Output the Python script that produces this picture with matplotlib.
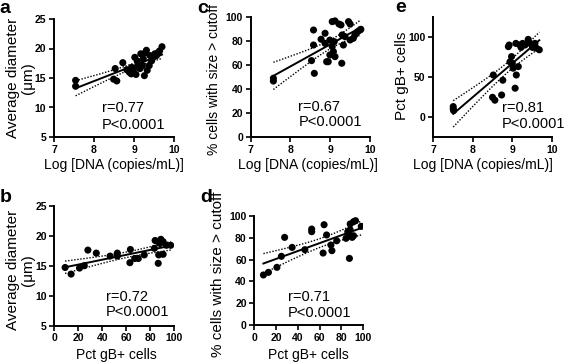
import numpy as np
import matplotlib
matplotlib.use("Agg")
import matplotlib.pyplot as plt

plt.rcParams['font.family'] = ['Liberation Sans', 'DejaVu Sans']

# ---------------- data ----------------
# Panel a: Log DNA vs average diameter
a_x = [7.54, 7.54, 8.53, 8.49, 8.57, 8.72, 8.82, 8.88, 8.93, 8.94, 8.98, 9.02, 9.05, 9.08,
       9.11, 9.15, 9.17, 9.21, 9.23, 9.26, 9.27, 9.31, 9.33, 9.38, 9.40, 9.44, 9.48, 9.52,
       9.56, 9.60, 9.64, 9.70]
a_y = [14.6, 13.6, 16.6, 14.8, 14.5, 17.6, 16.4, 16.0, 15.7, 16.8, 16.2, 18.5, 15.6, 17.9,
       16.8, 16.6, 19.1, 17.1, 18.2, 15.4, 19.2, 19.7, 16.3, 17.1, 18.8, 17.9, 18.5, 19.1,
       18.8, 19.3, 19.6, 20.3]

# Panel c: Log DNA vs % cells with size > cutoff
c_x = [7.57, 7.57, 8.58, 8.58, 8.53, 8.60, 8.77, 8.87, 8.87, 8.91, 8.95, 8.99, 9.05, 9.12,
       9.22, 9.27, 9.46, 9.50, 8.99, 9.05, 9.10, 9.08, 9.12, 9.29, 9.33, 9.30, 9.37, 9.50,
       9.58, 9.62, 9.69, 9.75, 9.77]
c_y = [49.2, 46.9, 89.4, 76.9, 63.9, 53.3, 81.7, 86.7, 78.3, 63.0, 63.0, 68.6, 96.4, 97.0,
       94.4, 93.6, 96.4, 94.4, 81.0, 75.6, 79.7, 71.4, 67.2, 61.7, 76.9, 85.3, 83.9, 81.1,
       82.5, 85.3, 88.0, 89.4, 90.0]

# Panel e: Log DNA vs Pct gB+ cells
e_x = [7.51, 7.51, 7.52, 8.52, 8.50, 8.56, 8.73, 8.76, 8.90, 8.92, 9.09, 8.94, 8.98, 9.00,
       9.02, 9.07, 9.10, 9.15, 9.19, 9.22, 9.26, 9.32, 9.40, 9.45, 9.51, 9.57, 9.61, 9.68]
e_y = [13, 10, 8, 52.5, 24.6, 21, 27.5, 46, 88, 90, 92, 69, 75.5, 67, 61, 36, 52.5, 63,
       90, 87, 92, 90, 97, 92, 87, 92, 86, 84]

# Panel b: Pct gB+ cells vs average diameter
b_x = [9, 14, 21, 25, 28, 35, 46.5, 52.5, 52.5, 63.4, 63, 67, 70, 75, 83.4, 84, 86.6, 88.8,
       90.7, 86.6, 87, 90.7, 93.4, 97, 88]
b_y = [14.7, 13.6, 14.6, 15.0, 17.6, 17.1, 16.6, 17.1, 16.6, 17.7, 15.5, 16.2, 16.2, 16.8,
       17.9, 19.2, 19.0, 19.4, 19.0, 15.4, 16.8, 16.9, 18.4, 18.4, 18.7]

# Panel d: Pct gB+ cells vs % cells with size > cutoff
d_x = [8.4, 13, 20.8, 24.9, 27.9, 34.8, 46.5, 52.8, 52.8, 64.2, 63.3, 66.5, 70.5, 71.4,
       75.8, 84.4, 86, 87.5, 88.2, 90, 91.3, 87.5, 88.2, 91.3, 93.1, 98.4]
d_y = [45.9, 48.3, 52.9, 63, 80.4, 71.2, 69.1, 88, 85.6, 92, 66, 82.6, 73.4, 68.2, 77.3,
       79.5, 85.6, 81.9, 87.4, 80.4, 81.9, 61.1, 92.7, 94.8, 95.7, 90.5]

stats_text = {"a": ("r=0.77", "P<0.0001"), "b": ("r=0.72", "P<0.0001"),
              "c": ("r=0.67", "P<0.0001"), "d": ("r=0.71", "P<0.0001"),
              "e": ("r=0.81", "P<0.0001")}

# ---------------- figure ----------------
W, H = 567, 363
fig = plt.figure(figsize=(W / 100, H / 100), dpi=100)


def ax_px(l, r, t, b):
    return fig.add_axes([l / W, 1 - b / H, (r - l) / W, (b - t) / H])


def style(ax):
    for s in ("top", "right"):
        ax.spines[s].set_visible(False)
    for s in ("left", "bottom"):
        ax.spines[s].set_linewidth(1.4)
    ax.tick_params(direction="out", length=3.5, width=1.2, labelsize=7.5, pad=2)
    for lab in ax.get_xticklabels() + ax.get_yticklabels():
        lab.set_fontweight("bold")


def regress(ax, x, y, t=2.03):
    x = np.asarray(x, float)
    y = np.asarray(y, float)
    n = len(x)
    slope, inter = np.polyfit(x, y, 1)
    xs = np.linspace(x.min(), x.max(), 100)
    yhat = slope * xs + inter
    resid = y - (slope * x + inter)
    s = np.sqrt(np.sum(resid ** 2) / (n - 2))
    se = s * np.sqrt(1 / n + (xs - x.mean()) ** 2 / np.sum((x - x.mean()) ** 2))
    ax.plot(xs, yhat, color="black", lw=1.4, zorder=3)
    ax.plot(xs, yhat + t * se, color="black", lw=1.0, ls=(0, (1, 1.2)), zorder=3)
    ax.plot(xs, yhat - t * se, color="black", lw=1.0, ls=(0, (1, 1.2)), zorder=3)


def scatter(ax, x, y):
    ax.scatter(x, y, s=26, color="black", edgecolors="none", zorder=4)


def stat_text(ax, key, x, y1, y2):
    r, p = stats_text[key]
    ax.text(x, y1, r, fontsize=10.5, ha="left", va="center")
    ax.text(x, y2, p, fontsize=10.5, ha="left", va="center")


# Panel a
ax = ax_px(54, 174, 19, 137)
scatter(ax, a_x, a_y)
regress(ax, a_x, a_y)
ax.set_xlim(7, 10); ax.set_ylim(5, 25)
ax.set_xticks([7, 8, 9, 10]); ax.set_yticks([5, 10, 15, 20, 25])
style(ax)
stat_text(ax, "a", 8.2, 9.9, 7.0)

# Panel c
ax = ax_px(250.7, 370, 17.3, 137.3)
scatter(ax, c_x, c_y)
regress(ax, c_x, c_y)
ax.set_xlim(7, 10); ax.set_ylim(0, 100)
ax.set_xticks([7, 8, 9, 10]); ax.set_yticks([0, 20, 40, 60, 80, 100])
style(ax)
stat_text(ax, "c", 8.2, 25, 12.5)

# Panel e
ax = ax_px(433, 552, 17, 137)
scatter(ax, e_x, e_y)
regress(ax, e_x, e_y)
ax.set_xlim(7, 10); ax.set_ylim(-25, 125)
ax.set_xticks([7, 8, 9, 10]); ax.set_yticks([0, 50, 100])
style(ax)
stat_text(ax, "e", 8.73, 10.9, -9)

# Panel b
ax = ax_px(54.3, 174.3, 205.7, 325.7)
scatter(ax, b_x, b_y)
regress(ax, b_x, b_y)
ax.set_xlim(0, 100); ax.set_ylim(5, 25)
ax.set_xticks([0, 20, 40, 60, 80, 100]); ax.set_yticks([5, 10, 15, 20, 25])
style(ax)
stat_text(ax, "b", 43, 9.8, 7.3)

# Panel d
ax = ax_px(254.3, 363, 216, 325)
scatter(ax, d_x, d_y)
regress(ax, d_x, d_y)
ax.set_xlim(0, 100); ax.set_ylim(0, 100)
ax.set_xticks([0, 20, 40, 60, 80, 100]); ax.set_yticks([0, 20, 40, 60, 80, 100])
style(ax)
stat_text(ax, "d", 30.7, 25.3, 11)


def ftext(x, y, s, **kw):
    fig.text(x / W, 1 - y / H, s, **kw)


# panel letters (baseline positions)
for L, (x, y) in {"a": (5, 13), "b": (6, 202), "c": (203, 13), "d": (206, 202),
                  "e": (401, 12)}.items():
    ftext(x, y, L, fontsize=14, fontweight="bold", ha="center", va="baseline")

# y labels
ftext(20.5, 78, "Average diameter\n(μm)", fontsize=11, rotation=90, ha="center",
      va="center", linespacing=1.0, multialignment="center")
ftext(20.5, 270, "Average diameter\n(μm)", fontsize=11, rotation=90, ha="center",
      va="center", linespacing=1.0, multialignment="center")
ftext(214, 79, "% cells with size > cutoff", fontsize=10, rotation=90, ha="center",
      va="center")
ftext(218, 274, "% cells with size > cutoff", fontsize=11, rotation=90, ha="center",
      va="center")
ftext(402, 76, "Pct gB+ cells", fontsize=11, rotation=90, ha="center", va="center")

# x labels
ftext(114, 165, "Log [DNA (copies/mL)]", fontsize=10, ha="center", va="center")
ftext(308, 165, "Log [DNA (copies/mL)]", fontsize=10, ha="center", va="center")
ftext(483, 165, "Log [DNA (copies/mL)]", fontsize=10, ha="center", va="center")
ftext(116, 355, "Pct gB+ cells", fontsize=10, ha="center", va="center")
ftext(308, 355, "Pct gB+ cells", fontsize=10, ha="center", va="center")

fig.savefig("out.png", dpi=100)
